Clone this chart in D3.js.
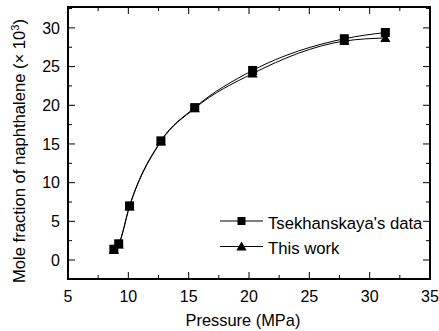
<!DOCTYPE html>
<html>
<head>
  <meta charset="utf-8">
  <script src="https://d3js.org/d3.v7.min.js"></script>
  <style>
    body { margin: 0; padding: 0; background: #fff; }
    text { font-family: "Liberation Sans", Arial, sans-serif; fill: #000; }
  </style>
</head>
<body>
  <svg id="chart" width="439" height="331"></svg>
  <script>
    // pressure (MPa)
    var pressure = [8.8, 9.2, 10.1, 12.7, 15.5, 20.3, 27.9, 31.3];
    // mole fraction x 10^3
    var tsekhanskaya = [1.4, 2.1, 7.0, 15.4, 19.7, 24.5, 28.6, 29.4];
    var thisWork = [1.3, 2.0, 6.9, 15.3, 19.6, 24.1, 28.3, 28.7];
    var xTicks = [5, 10, 15, 20, 25, 30, 35];
    var yTicks = [0, 5, 10, 15, 20, 25, 30];

    var svg = d3.select("#chart");
    // plot box ("top" is taken on window, so other names)
    var pLeft = 68, pRight = 430, pTop = 7, pBottom = 279;

    var x = d3.scaleLinear().domain([5, 35]).range([pLeft, pRight]);
    var y = d3.scaleLinear().domain([-2.45, 32.7]).range([pBottom, pTop]);

    var minorX = d3.range(5, 35.01, 2.5);
    var minorY = d3.range(-2.5, 32.6, 2.5).filter(function (v) { return v >= -2.45; });

    // ticks, inside and mirrored
    var g = svg.append("g").attr("stroke", "#000").attr("stroke-width", 1);
    minorX.forEach(function (v) {
      var len = xTicks.indexOf(v) >= 0 ? 7 : 4;
      g.append("line").attr("x1", x(v)).attr("x2", x(v)).attr("y1", pBottom).attr("y2", pBottom - len);
      g.append("line").attr("x1", x(v)).attr("x2", x(v)).attr("y1", pTop).attr("y2", pTop + len);
    });
    minorY.forEach(function (v) {
      var len = yTicks.indexOf(v) >= 0 ? 7 : 4;
      g.append("line").attr("y1", y(v)).attr("y2", y(v)).attr("x1", pLeft).attr("x2", pLeft + len);
      g.append("line").attr("y1", y(v)).attr("y2", y(v)).attr("x1", pRight).attr("x2", pRight - len);
    });

    // frame
    svg.append("rect")
      .attr("x", pLeft).attr("y", pTop)
      .attr("width", pRight - pLeft).attr("height", pBottom - pTop)
      .attr("fill", "none").attr("stroke", "#000").attr("stroke-width", 2);

    // tick labels
    svg.selectAll(".xlab").data(xTicks).join("text")
      .attr("class", "xlab")
      .attr("x", function (d) { return x(d); })
      .attr("y", 301.5)
      .attr("text-anchor", "middle")
      .attr("font-size", 16)
      .text(function (d) { return d; });

    svg.selectAll(".ylab").data(yTicks).join("text")
      .attr("class", "ylab")
      .attr("x", 60)
      .attr("y", function (d) { return y(d) + 5.8; })
      .attr("text-anchor", "end")
      .attr("font-size", 16)
      .text(function (d) { return d; });

    // axis titles
    svg.append("text")
      .attr("x", 243).attr("y", 326)
      .attr("text-anchor", "middle")
      .attr("font-size", 16.4)
      .text("Pressure (MPa)");

    var yt = svg.append("text")
      .attr("transform", "translate(25,151) rotate(-90)")
      .attr("text-anchor", "middle")
      .attr("font-size", 16.6);
    yt.append("tspan").text("Mole fraction of naphthalene (\u00d7 10");
    yt.append("tspan").attr("font-size", 11).attr("dy", -6).text("3");
    yt.append("tspan").attr("dy", 6).text(")");

    // curves
    var line = d3.line()
      .x(function (d) { return x(d[0]); })
      .y(function (d) { return y(d[1]); })
      .curve(d3.curveMonotoneX);

    var s1 = pressure.map(function (p, i) { return [p, tsekhanskaya[i]]; });
    var s2 = pressure.map(function (p, i) { return [p, thisWork[i]]; });

    svg.append("path").attr("d", line(s1)).attr("fill", "none").attr("stroke", "#000").attr("stroke-width", 1);
    svg.append("path").attr("d", line(s2)).attr("fill", "none").attr("stroke", "#000").attr("stroke-width", 1);

    var tri = d3.symbol().type(d3.symbolTriangle).size(45);

    svg.selectAll(".tri").data(s2).join("path")
      .attr("class", "tri")
      .attr("transform", function (d) { return "translate(" + x(d[0]) + "," + (y(d[1]) + 1) + ")"; })
      .attr("d", tri)
      .attr("fill", "#000");

    svg.selectAll(".sq").data(s1).join("rect")
      .attr("class", "sq")
      .attr("x", function (d) { return x(d[0]) - 4.5; })
      .attr("y", function (d) { return y(d[1]) - 4.5; })
      .attr("width", 9).attr("height", 9)
      .attr("fill", "#000");

    // legend
    var legend = [
      { label: "Tsekhanskaya's data", type: "sq", yy: 221 },
      { label: "This work", type: "tri", yy: 246.5 }
    ];
    legend.forEach(function (d) {
      svg.append("line").attr("x1", 220).attr("x2", 263).attr("y1", d.yy).attr("y2", d.yy)
        .attr("stroke", "#000").attr("stroke-width", 1);
      if (d.type === "sq") {
        svg.append("rect").attr("x", 237.5).attr("y", d.yy - 4).attr("width", 8).attr("height", 8).attr("fill", "#000");
      } else {
        svg.append("path").attr("transform", "translate(241.5," + (d.yy + 1) + ")").attr("d", tri).attr("fill", "#000");
      }
      svg.append("text").attr("x", 268).attr("y", d.yy + 7.5).attr("font-size", 16.7).text(d.label);
    });
  </script>
</body>
</html>
